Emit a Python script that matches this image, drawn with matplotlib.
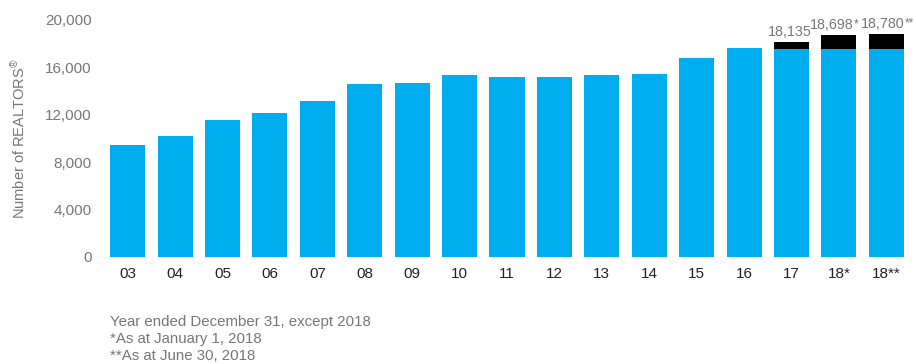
import matplotlib
matplotlib.use("Agg")
import matplotlib.pyplot as plt

plt.rcParams["font.family"] = ["Liberation Sans", "DejaVu Sans"]
plt.rcParams["mathtext.fontset"] = "custom"
plt.rcParams["mathtext.rm"] = "Liberation Sans"
plt.rcParams["mathtext.default"] = "rm"

years = ["03", "04", "05", "06", "07", "08", "09", "10", "11", "12",
         "13", "14", "15", "16", "17", "18*", "18**"]
base = [9450, 10200, 11550, 12150, 13150, 14600, 14680, 15350, 15180, 15180,
        15350, 15430, 16800, 17640, 17550, 17550, 17550]
totals = [None] * 14 + [18135, 18698, 18780]
total_labels = ["18,135", "18,698", "18,780"]
total_marks = ["", "*", "**"]
footnotes = ["Year ended December 31, except 2018",
             "*As at January 1, 2018",
             "**As at June 30, 2018"]

blue = "#00AEEF"
grey = "#777777"

fig = plt.figure(figsize=(9.16, 3.64), dpi=100)
ax = fig.add_axes([0.1135, 0.294, 0.88, 0.652])

x = list(range(len(years)))
ax.bar(x, base, width=0.74, color=blue)
extra_x = [i for i, t in enumerate(totals) if t is not None]
extra = [totals[i] - base[i] for i in extra_x]
ax.bar(extra_x, extra, bottom=[base[i] for i in extra_x], width=0.74, color="black")
shifts = [0.03, 0.15, 0.07]
for i, lab, mark, sh in zip(extra_x, total_labels, total_marks, shifts):
    t = ax.text(i - sh, totals[i] + 250, lab, ha="center", va="bottom",
                fontsize=10.3, color=grey)
    if mark:
        # asterisks tucked against the number's top-right corner
        ax.annotate(mark, xy=(1, 1), xycoords=t, ha="left", va="top",
                    fontsize=8.5, color=grey)

ax.set_xlim(-0.5, len(years) - 0.5)
ax.set_ylim(0, 20000)
ax.set_xticks(x)
ax.set_xticklabels(years, fontsize=11, color="#222222")
ax.set_yticks(range(0, 20001, 4000))
ax.set_yticklabels([f"{v:,}" for v in range(0, 20001, 4000)], fontsize=11, color=grey)
ax.tick_params(length=0, axis="y", pad=9)
ax.tick_params(length=0, axis="x", pad=7)
for s in ax.spines.values():
    s.set_visible(False)
ax.set_ylabel(r"Number of REALTORS$^{\circledR}$", fontsize=10.5, color=grey, labelpad=12)

for k, line in enumerate(footnotes):
    fig.text(0.12, 1 - (322 + 17 * k) / 364, line, fontsize=10.8, color=grey, va="center")

fig.savefig("out.png", dpi=100)
